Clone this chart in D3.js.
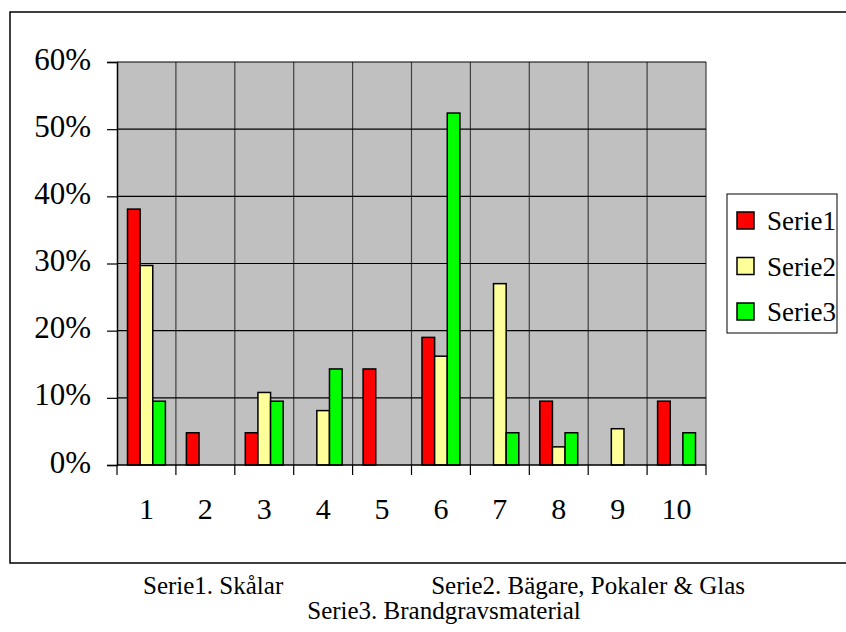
<!DOCTYPE html>
<html>
<head>
<meta charset="utf-8">
<style>
  body { margin: 0; background: #fff; }
</style>
</head>
<body>
<svg width="846" height="632" class="chart"></svg>
<script src="https://d3js.org/d3.v7.min.js" charset="utf-8"></script>
<script>
    // kategorier och serier (andelar)
    var categories = ["1", "2", "3", "4", "5", "6", "7", "8", "9", "10"]
    var serie1 = [0.381, 0.048, 0.048, 0, 0.143, 0.190, 0, 0.095, 0, 0.095]
    var serie2 = [0.297, 0, 0.108, 0.081, 0, 0.162, 0.270, 0.027, 0.054, 0]
    var serie3 = [0.095, 0, 0.095, 0.143, 0, 0.524, 0.048, 0.048, 0, 0.048]
    var seriesNames = ["Serie1", "Serie2", "Serie3"]
    var colors = ["#FF0000", "#FFFF99", "#00FF00"]
    var yTicks = [0, 0.1, 0.2, 0.3, 0.4, 0.5, 0.6]
    var captions = ["Serie1. Skålar", "Serie2. Bägare, Pokaler & Glas", "Serie3. Brandgravsmaterial"]

    var svg = d3.select(".chart")
    function serif(sel, size) {
        return sel.style("font-family", "'Liberation Serif', 'Times New Roman', serif")
            .style("font-size", size + "px").style("fill", "#000")
    }

    // yttre ram
    svg.append("rect")
        .attr("x", 10).attr("y", 12).attr("width", 860).attr("height", 551)
        .attr("fill", "none").attr("stroke", "#000").attr("stroke-width", 1.5)

    var x = d3.scaleBand().domain(categories).range([117, 706])
    var x1 = d3.scaleBand().domain(seriesNames).range([10.5, x.bandwidth() - 10.5])
    var y = d3.scaleLinear().domain([0, 0.6]).range([465, 62])

    // plotyta
    svg.append("rect")
        .attr("x", x.range()[0]).attr("y", y(0.6))
        .attr("width", x.range()[1] - x.range()[0]).attr("height", y(0) - y(0.6))
        .attr("fill", "#C0C0C0")

    // vertikala linjer mellan kategorier
    var bounds = categories.map(function(c){ return x(c) }).concat([x.range()[1]])
    svg.append("g").selectAll("line").data(bounds.slice(1)).enter().append("line")
        .attr("x1", function(d){ return d }).attr("x2", function(d){ return d })
        .attr("y1", y(0.6)).attr("y2", y(0))
        .attr("stroke", "#404040").attr("stroke-width", 1.2)

    // horisontella stödlinjer
    svg.append("g").selectAll("line").data(yTicks.slice(1)).enter().append("line")
        .attr("x1", x.range()[0]).attr("x2", x.range()[1])
        .attr("y1", function(d){ return y(d) }).attr("y2", function(d){ return y(d) })
        .attr("stroke", "#000").attr("stroke-width", 1.2)

    // staplar
    var data = []
    categories.forEach(function(c, i){
        data.push({cat: c, s: 0, v: serie1[i]})
        data.push({cat: c, s: 1, v: serie2[i]})
        data.push({cat: c, s: 2, v: serie3[i]})
    })
    svg.append("g").selectAll("rect").data(data.filter(function(d){ return d.v > 0 })).enter().append("rect")
        .attr("x", function(d){ return x(d.cat) + x1(seriesNames[d.s]) })
        .attr("y", function(d){ return y(d.v) })
        .attr("width", x1.bandwidth())
        .attr("height", function(d){ return y(0) - y(d.v) })
        .attr("fill", function(d){ return colors[d.s] })
        .attr("stroke", "#000").attr("stroke-width", 1.5)

    // y-axel
    var yAxis = svg.append("g").attr("transform", "translate(117,0)")
        .call(d3.axisLeft(y).tickValues(yTicks).tickFormat(d3.format(".0%")).tickSize(10).tickPadding(16))
    yAxis.select(".domain").attr("stroke-width", 1.5)
    yAxis.selectAll("line").attr("stroke-width", 1.2)
    serif(yAxis.selectAll("text"), 31).attr("dy", null).attr("y", 7)

    // x-axel
    svg.append("line").attr("x1", x.range()[0]).attr("x2", x.range()[1])
        .attr("y1", y(0)).attr("y2", y(0)).attr("stroke", "#000").attr("stroke-width", 1.5)
    svg.append("g").selectAll("line").data(bounds).enter().append("line")
        .attr("x1", function(d){ return d }).attr("x2", function(d){ return d })
        .attr("y1", y(0)).attr("y2", y(0) + 10)
        .attr("stroke", "#000").attr("stroke-width", 1.2)
    serif(svg.append("g").selectAll("text").data(categories).enter().append("text")
        .attr("x", function(d){ return x(d) + x.bandwidth() / 2 }).attr("y", 519)
        .attr("text-anchor", "middle").text(function(d){ return d }), 30)

    // förklaring
    svg.append("rect").attr("x", 727).attr("y", 194).attr("width", 110).attr("height", 139)
        .attr("fill", "#fff").attr("stroke", "#000").attr("stroke-width", 1)
    var leg = svg.append("g").selectAll("g").data(seriesNames).enter().append("g")
        .attr("transform", function(d, i){ return "translate(737," + (212 + i * 45.5) + ")" })
    leg.append("rect").attr("width", 17).attr("height", 17)
        .attr("fill", function(d, i){ return colors[i] }).attr("stroke", "#000").attr("stroke-width", 1.5)
    serif(leg.append("text").attr("x", 30).attr("y", 18).text(function(d){ return d }), 27)

    // bildtext
    serif(svg.append("text").attr("x", 143).attr("y", 594).text(captions[0]), 25)
    serif(svg.append("text").attr("x", 745).attr("y", 594).attr("text-anchor", "end").text(captions[1]), 25)
    serif(svg.append("text").attr("x", 444).attr("y", 619).attr("text-anchor", "middle").text(captions[2]), 25)
</script>
</body>
</html>
